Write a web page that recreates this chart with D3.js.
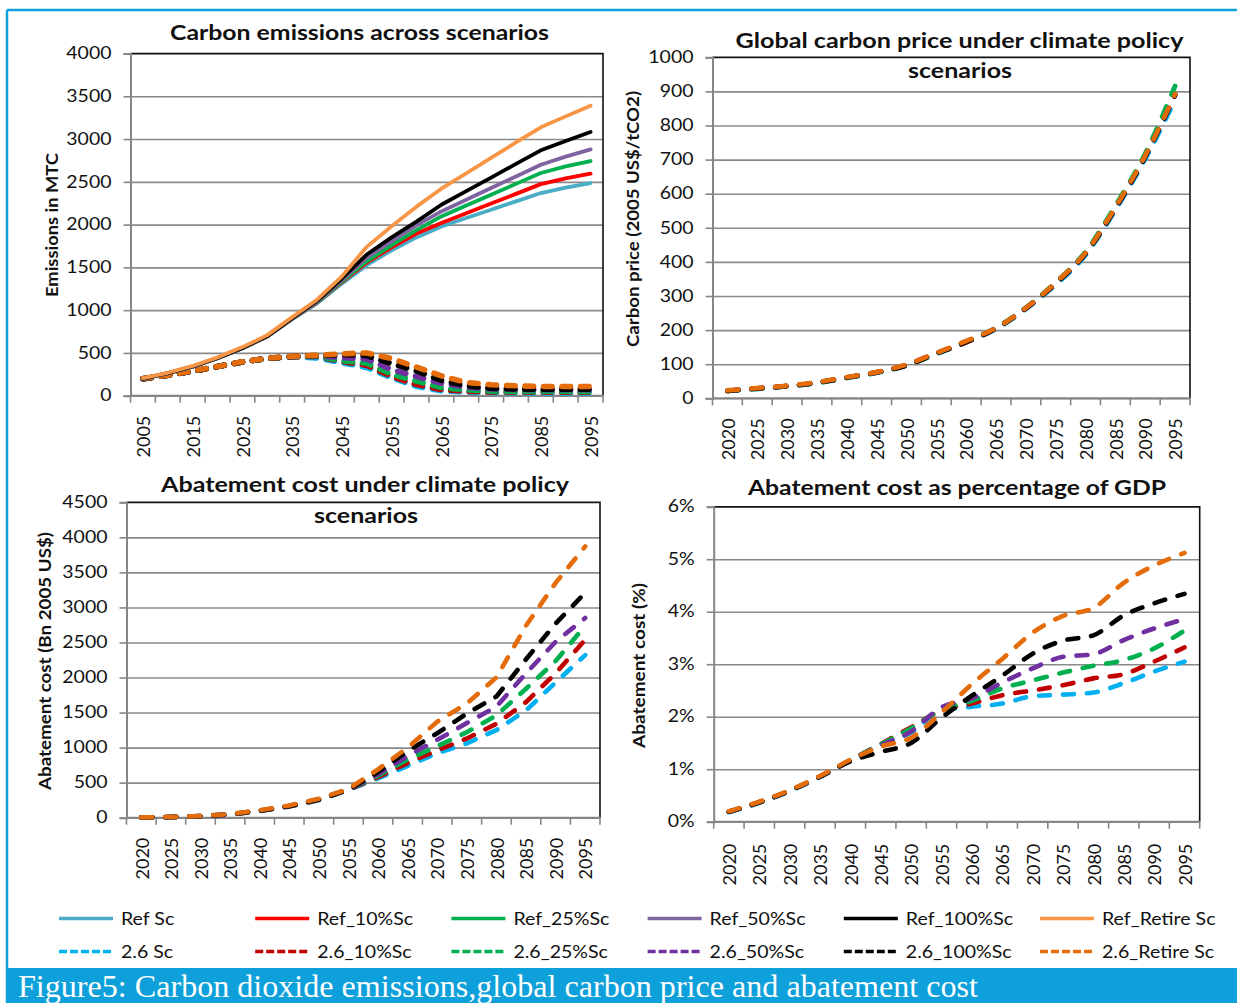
<!DOCTYPE html>
<html>
<head>
<meta charset="utf-8">
<title>Figure 5</title>
<script src="https://cdn.jsdelivr.net/npm/d3@7/dist/d3.min.js"></script>
<style>
  html, body { margin: 0; padding: 0; background: #ffffff; }
  svg { display: block; }
</style>
</head>
<body>
<svg id="figure" width="1237" height="1003"></svg>
<script>
// ---------- categories ----------
const emissionYears = [2005, 2010, 2015, 2020, 2025, 2030, 2035, 2040, 2045, 2050,
                       2055, 2060, 2065, 2070, 2075, 2080, 2085, 2090, 2095];
const emissionLabelYears = [2005, 2015, 2025, 2035, 2045, 2055, 2065, 2075, 2085, 2095];
const policyYears = [2020, 2025, 2030, 2035, 2040, 2045, 2050, 2055,
                     2060, 2065, 2070, 2075, 2080, 2085, 2090, 2095];

// ---------- scenario names ----------
const refNames = ["Ref Sc", "Ref_10%Sc", "Ref_25%Sc", "Ref_50%Sc", "Ref_100%Sc", "Ref_Retire Sc"];
const policyNames = ["2.6 Sc", "2.6_10%Sc", "2.6_25%Sc", "2.6_50%Sc", "2.6_100%Sc", "2.6_Retire Sc"];

// ---------- tick values ----------
const emissionTicks = [0, 500, 1000, 1500, 2000, 2500, 3000, 3500, 4000];
const priceTicks = [0, 100, 200, 300, 400, 500, 600, 700, 800, 900, 1000];
const costTicks = [0, 500, 1000, 1500, 2000, 2500, 3000, 3500, 4000, 4500];
const shareTicks = [0, 1, 2, 3, 4, 5, 6];

// ---------- carbon emissions (MTC), reference scenarios ----------
const emisRefSc     = [200, 262, 340, 438, 555, 692, 895, 1080, 1310, 1525, 1700, 1850, 1979, 2077, 2174, 2272, 2369, 2432, 2486];
const emisRef10     = [200, 262, 340, 438, 555, 692, 897, 1088, 1328, 1555, 1735, 1895, 2018, 2132, 2246, 2359, 2473, 2540, 2595];
const emisRef25     = [200, 262, 340, 438, 555, 692, 898, 1092, 1338, 1570, 1760, 1935, 2096, 2223, 2350, 2476, 2603, 2680, 2743];
const emisRef50     = [200, 262, 340, 438, 556, 694, 900, 1100, 1352, 1615, 1805, 1990, 2154, 2290, 2427, 2563, 2700, 2795, 2879];
const emisRef100    = [200, 263, 341, 440, 558, 696, 905, 1110, 1370, 1650, 1850, 2035, 2232, 2391, 2550, 2709, 2868, 2978, 3082];
const emisRefRetire = [205, 268, 348, 448, 568, 708, 918, 1122, 1395, 1740, 1980, 2210, 2420, 2600, 2780, 2960, 3137, 3265, 3390];

// ---------- carbon emissions (MTC), 2.6 scenarios ----------
const emis26Sc     = [198, 238, 288, 340, 395, 435, 455, 440, 385, 330, 210, 110, 58, 42, 36, 33, 32, 31, 31];
const emis26_10    = [198, 238, 288, 340, 395, 435, 456, 460, 400, 355, 225, 130, 72, 52, 44, 42, 40, 40, 40];
const emis26_25    = [198, 238, 288, 340, 395, 435, 456, 465, 410, 380, 250, 170, 95, 68, 55, 50, 50, 50, 50];
const emis26_50    = [198, 238, 288, 340, 395, 436, 457, 468, 445, 430, 305, 225, 145, 100, 80, 72, 70, 70, 70];
const emis26_100   = [198, 238, 288, 340, 395, 436, 458, 470, 480, 470, 375, 290, 180, 115, 88, 78, 75, 75, 75];
const emis26Retire = [200, 240, 290, 342, 397, 437, 460, 472, 490, 500, 435, 335, 232, 155, 128, 115, 108, 108, 108];

// ---------- global carbon price (2005 US$/tCO2) ----------
const price26Sc     = [22, 28, 35, 45, 60, 75, 97, 130, 165, 203, 262, 333, 420, 552, 702, 875];
const price26_10    = [22, 29, 36, 46, 61, 76, 98, 132, 164, 205, 264, 337, 425, 557, 709, 890];
const price26_25    = [22, 28, 36, 45, 60, 75, 97, 131, 166, 207, 266, 340, 430, 565, 718, 916];
const price26_50    = [22, 29, 36, 46, 61, 76, 98, 132, 166, 205, 264, 337, 425, 557, 709, 888];
const price26_100   = [22, 29, 36, 46, 61, 76, 96, 131, 165, 205, 264, 337, 425, 557, 709, 890];
const price26Retire = [23, 30, 37, 47, 62, 77, 99, 133, 168, 206, 265, 339, 427, 560, 712, 892];

// ---------- abatement cost (Bn 2005 US$) ----------
const cost26Sc     = [3, 8, 20, 45, 95, 160, 250, 395, 560, 740, 920, 1060, 1250, 1530, 1930, 2320];
const cost26_10    = [3, 8, 20, 45, 96, 162, 255, 398, 580, 780, 960, 1130, 1340, 1650, 2060, 2540];
const cost26_25    = [4, 9, 22, 48, 100, 168, 262, 402, 600, 830, 1020, 1220, 1460, 1840, 2235, 2740];
const cost26_50    = [4, 9, 22, 48, 100, 168, 262, 402, 620, 880, 1110, 1350, 1585, 2060, 2510, 2850];
const cost26_100   = [4, 9, 22, 48, 100, 165, 258, 400, 650, 950, 1205, 1485, 1730, 2260, 2770, 3210];
const cost26Retire = [5, 10, 25, 52, 108, 175, 270, 410, 690, 1000, 1370, 1630, 2000, 2740, 3350, 3870];

// ---------- abatement cost as % of GDP ----------
const share26Sc     = [0.18, 0.36, 0.58, 0.85, 1.17, 1.47, 1.70, 2.12, 2.19, 2.25, 2.39, 2.42, 2.46, 2.64, 2.86, 3.05];
const share26_10    = [0.19, 0.37, 0.59, 0.86, 1.17, 1.48, 1.80, 2.12, 2.25, 2.41, 2.50, 2.60, 2.73, 2.81, 3.05, 3.32];
const share26_25    = [0.19, 0.37, 0.59, 0.86, 1.17, 1.47, 1.78, 2.13, 2.30, 2.54, 2.69, 2.84, 2.97, 3.08, 3.30, 3.64];
const share26_50    = [0.19, 0.37, 0.59, 0.86, 1.16, 1.45, 1.72, 2.18, 2.35, 2.65, 2.92, 3.14, 3.19, 3.46, 3.68, 3.86];
const share26_100   = [0.19, 0.37, 0.59, 0.86, 1.15, 1.33, 1.50, 1.98, 2.40, 2.78, 3.20, 3.45, 3.55, 3.93, 4.16, 4.34];
const share26Retire = [0.20, 0.38, 0.60, 0.87, 1.18, 1.43, 1.60, 2.08, 2.62, 3.10, 3.60, 3.92, 4.07, 4.55, 4.88, 5.12];

// ---------- styling ----------
const refColors    = ["#4bacc6", "#ff0000", "#00b050", "#8064a2", "#000000", "#f79646"];
const policyColors = ["#00b0f0", "#c00000", "#00b050", "#7030a0", "#000000", "#e46c0a"];
const frameBlue = "#0ea0da";
const gridColor = "#8a8a8a";
const axisColor = "#868686";
const FONT = "Lato, 'Open Sans', 'DejaVu Sans', sans-serif";

const svg = d3.select("#figure");
svg.append("rect").attr("width", 1237).attr("height", 1003).attr("fill", "#ffffff");

// horizontal widening of a text element so its glyphs occupy k times their natural width
function widen(sel, k) {
  sel.each(function () {
    const w = this.getComputedTextLength();
    d3.select(this).attr("textLength", w * k).attr("lengthAdjust", "spacingAndGlyphs");
  });
}

function seriesList(names, colors, arrays, dashed) {
  return names.map((n, i) => ({ name: n, color: colors[i], values: arrays[i], dashed }));
}

function drawPanel(p) {
  const g = svg.append("g");
  const x = d3.scaleBand().domain(p.years).range([p.left, p.right]).padding(0);
  const y = d3.scaleLinear().domain([p.ticks[0], p.ticks[p.ticks.length - 1]]).range([p.bottom, p.top]);
  const bw = x.bandwidth();

  // horizontal gridlines
  const grid = g.append("g").attr("transform", `translate(${p.left},0)`)
    .call(d3.axisLeft(y).tickValues(p.ticks).tickSize(-(p.right - p.left)).tickFormat(""));
  grid.select(".domain").remove();
  grid.selectAll("line").attr("stroke", gridColor).attr("stroke-width", 1.6);

  // dark outline on the top and right of the plot area
  g.append("path")
    .attr("d", `M${p.left},${y(p.ticks[p.ticks.length - 1])}H${p.right}V${p.bottom}`)
    .attr("fill", "none").attr("stroke", "#111").attr("stroke-width", 1.6);

  // value axis
  const ya = g.append("g").attr("transform", `translate(${p.left},0)`)
    .call(d3.axisLeft(y).tickValues(p.ticks).tickSize(7).tickPadding(12).tickFormat(p.format));
  ya.attr("font-family", FONT).attr("font-size", 16.5);
  ya.select(".domain").attr("stroke", axisColor).attr("stroke-width", 2);
  ya.selectAll(".tick line").attr("stroke", axisColor).attr("stroke-width", 1.6);
  ya.selectAll(".tick text").attr("fill", "#111").call(widen, 1.18);

  // category axis: baseline, ticks between categories, vertical labels
  g.append("line").attr("x1", p.left).attr("x2", p.right).attr("y1", p.bottom).attr("y2", p.bottom)
    .attr("stroke", axisColor).attr("stroke-width", 2);
  const bounds = d3.range(p.years.length + 1).map(i => p.left + i * x.step());
  g.selectAll(".xtick").data(bounds).join("line")
    .attr("x1", d => d).attr("x2", d => d).attr("y1", p.bottom).attr("y2", p.bottom + 7)
    .attr("stroke", axisColor).attr("stroke-width", 1.6);
  g.selectAll(".xlab").data(p.labelYears).join("text")
    .attr("transform", d => `translate(${x(d) + bw / 2},${p.bottom + p.labelGap}) rotate(-90)`)
    .attr("text-anchor", "end").attr("dy", "0.4em")
    .attr("font-family", FONT).attr("font-size", 18).attr("fill", "#111")
    .text(d => d);

  // value axis title
  g.append("text")
    .attr("transform", `translate(${p.yTitle.x},${p.yTitle.y}) rotate(-90)`)
    .attr("text-anchor", "middle").attr("dy", "0.36em")
    .attr("font-family", FONT).attr("font-weight", 700).attr("font-size", 17).attr("fill", "#111")
    .attr("textLength", p.yTitle.len).attr("lengthAdjust", "spacingAndGlyphs")
    .text(p.yTitle.text);

  // series
  const line = d3.line()
    .x((d, i) => x(p.years[i]) + bw / 2)
    .y(d => y(d))
    .curve(p.curve);
  g.selectAll(".series").data(p.series).join("path")
    .attr("d", s => line(s.values))
    .attr("fill", "none")
    .attr("stroke", s => s.color)
    .attr("stroke-width", s => s.dashed ? p.dashWidth : 3.8)
    .attr("stroke-dasharray", s => s.dashed ? p.dash : null)
    .attr("stroke-linecap", "round")
    .attr("stroke-linejoin", "round");

  // chart title (one or two lines)
  p.title.forEach(t => {
    g.append("text")
      .attr("x", t.cx).attr("y", t.y).attr("text-anchor", "middle")
      .attr("font-family", FONT).attr("font-weight", 700).attr("font-size", 21).attr("fill", "#111")
      .attr("textLength", t.len).attr("lengthAdjust", "spacingAndGlyphs")
      .text(t.text);
  });
}

// ---------- panel 1: carbon emissions ----------
drawPanel({
  left: 130.5, right: 603, top: 53.5, bottom: 395.7,
  years: emissionYears, labelYears: emissionLabelYears, labelGap: 20,
  ticks: emissionTicks, format: d => d,
  curve: d3.curveLinear, dash: "8.5,10", dashWidth: 5.6,
  yTitle: { text: "Emissions in MTC", x: 51.5, y: 225, len: 144 },
  title: [{ text: "Carbon emissions across scenarios", cx: 359.5, y: 39.5, len: 379 }],
  series: seriesList(policyNames, policyColors,
            [emis26Sc, emis26_10, emis26_25, emis26_50, emis26_100, emis26Retire], true)
    .concat(seriesList(refNames, refColors,
            [emisRefSc, emisRef10, emisRef25, emisRef50, emisRef100, emisRefRetire], false))
});

// ---------- panel 2: global carbon price ----------
drawPanel({
  left: 712.5, right: 1190, top: 57.3, bottom: 398.3,
  years: policyYears, labelYears: policyYears, labelGap: 20,
  ticks: priceTicks, format: d => d,
  curve: d3.curveMonotoneX, dash: "11,13", dashWidth: 4.8,
  yTitle: { text: "Carbon price (2005 US$/tCO2)", x: 633, y: 219, len: 256 },
  title: [{ text: "Global carbon price under climate policy", cx: 959.5, y: 48, len: 448 },
          { text: "scenarios", cx: 960, y: 78, len: 104 }],
  series: seriesList(policyNames, policyColors,
            [price26Sc, price26_10, price26_25, price26_50, price26_100, price26Retire], true)
});

// ---------- panel 3: abatement cost ----------
drawPanel({
  left: 126.5, right: 600, top: 502.3, bottom: 817.7,
  years: policyYears, labelYears: policyYears, labelGap: 20,
  ticks: costTicks, format: d => d,
  curve: d3.curveLinear, dash: "11,13", dashWidth: 4.6,
  yTitle: { text: "Abatement cost (Bn 2005 US$)", x: 45, y: 661, len: 258 },
  title: [{ text: "Abatement cost under climate policy", cx: 365, y: 492, len: 408 },
          { text: "scenarios", cx: 366, y: 522.5, len: 104 }],
  series: seriesList(policyNames, policyColors,
            [cost26Sc, cost26_10, cost26_25, cost26_50, cost26_100, cost26Retire], true)
});

// ---------- panel 4: abatement cost share of GDP ----------
drawPanel({
  left: 713.7, right: 1199.7, top: 506.7, bottom: 821.7,
  years: policyYears, labelYears: policyYears, labelGap: 22,
  ticks: shareTicks, format: d => d + "%",
  curve: d3.curveMonotoneX, dash: "11,13", dashWidth: 4.6,
  yTitle: { text: "Abatement cost (%)", x: 639, y: 665.5, len: 165 },
  title: [{ text: "Abatement cost as percentage of GDP", cx: 957, y: 495, len: 418 }],
  series: seriesList(policyNames, policyColors,
            [share26Sc, share26_10, share26_25, share26_50, share26_100, share26Retire], true)
});

// ---------- legend ----------
const legendRows = [
  { names: refNames, colors: refColors, dashed: false, y: 918.5 },
  { names: policyNames, colors: policyColors, dashed: true, y: 951.5 }
];
legendRows.forEach(row => {
  const items = row.names.map((n, i) => ({ name: n, color: row.colors[i], x: 59 + i * 196.2 }));
  const lg = svg.append("g");
  lg.selectAll("line").data(items).join("line")
    .attr("x1", d => d.x).attr("x2", d => d.x + 54)
    .attr("y1", row.y).attr("y2", row.y)
    .attr("stroke", d => d.color)
    .attr("stroke-width", 3.4)
    .attr("stroke-dasharray", row.dashed ? "8,3" : null);
  lg.selectAll("text").data(items).join("text")
    .attr("x", d => d.x + 62).attr("y", row.y + 6)
    .attr("font-family", FONT).attr("font-size", 17).attr("fill", "#111")
    .text(d => d.name)
    .call(widen, 1.15);
});

// ---------- frame and caption ----------
svg.append("line").attr("x1", 7).attr("x2", 1237).attr("y1", 10).attr("y2", 10)
  .attr("stroke", frameBlue).attr("stroke-width", 2.5);
svg.append("line").attr("x1", 7).attr("x2", 7).attr("y1", 10).attr("y2", 968)
  .attr("stroke", frameBlue).attr("stroke-width", 2.5);
svg.append("rect").attr("x", 5.75).attr("y", 968).attr("width", 1231.25).attr("height", 35)
  .attr("fill", frameBlue);
svg.append("text")
  .attr("x", 18).attr("y", 997)
  .attr("font-family", "'Liberation Serif', 'DejaVu Serif', serif").attr("font-size", 31)
  .attr("fill", "#ffffff")
  .attr("textLength", 960).attr("lengthAdjust", "spacingAndGlyphs")
  .text("Figure5: Carbon dioxide emissions,global carbon price and abatement cost");
</script>
</body>
</html>
